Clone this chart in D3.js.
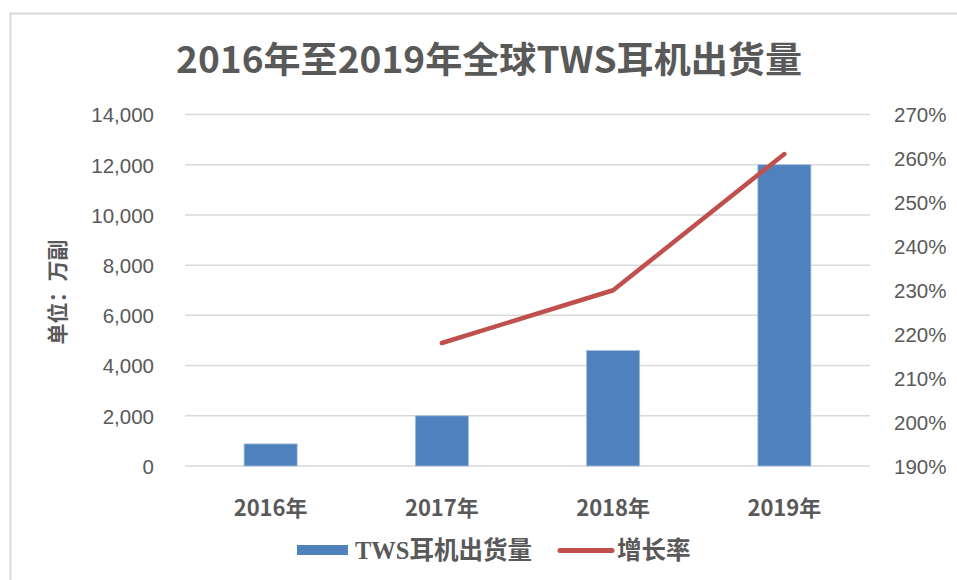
<!DOCTYPE html>
<html>
<head>
<meta charset="utf-8">
<script src="https://cdn.jsdelivr.net/npm/d3@7"></script>
<style>
  body { margin: 0; background: #fff; }
  text { fill: #595959; }
</style>
</head>
<body>
<script>
// data
const years = ["2016年", "2017年", "2018年", "2019年"];
const shipments = [880, 2000, 4600, 12000];   // 万副
const growth = [null, 2.18, 2.30, 2.61];      // 增长率
const leftTicks = [0, 2000, 4000, 6000, 8000, 10000, 12000, 14000];
const rightTicks = [1.9, 2.0, 2.1, 2.2, 2.3, 2.4, 2.5, 2.6, 2.7];

const width = 957, height = 580;
const svg = d3.select("body").append("svg")
  .attr("width", width)
  .attr("height", height);

// outer frame
svg.append("rect")
  .attr("x", 10.5).attr("y", 13.5)
  .attr("width", 960).attr("height", 600)
  .attr("fill", "none")
  .attr("stroke", "#d9d9d9")
  .attr("stroke-width", 2);

const plot = { left: 185, right: 870, top: 114.5, bottom: 466 };

const x = d3.scaleBand()
  .domain(years)
  .range([plot.left, plot.right])
  .paddingInner(0.69)
  .paddingOuter(0.345);

const y = d3.scaleLinear().domain([0, 14000]).range([plot.bottom, plot.top]);
const y2 = d3.scaleLinear().domain([1.9, 2.7]).range([plot.bottom, plot.top]);

// title
svg.append("text")
  .attr("x", 489).attr("y", 73)
  .attr("text-anchor", "middle")
  .attr("textLength", 626)
  .attr("lengthAdjust", "spacingAndGlyphs")
  .style("font-family", "'Liberation Sans Narrow', 'Noto Sans CJK SC', sans-serif")
  .style("font-weight", "bold")
  .style("font-size", "36px")
  .text("2016年至2019年全球TWS耳机出货量");

// grid
svg.append("g")
  .selectAll("line")
  .data(leftTicks)
  .join("line")
  .attr("x1", plot.left).attr("x2", plot.right)
  .attr("y1", d => y(d)).attr("y2", d => y(d))
  .attr("stroke", "#d9d9d9")
  .attr("stroke-width", 1.5);

// left axis
const leftAxis = svg.append("g")
  .attr("transform", `translate(${plot.left - 28},0)`)
  .call(d3.axisLeft(y).tickValues(leftTicks).tickSize(0).tickFormat(d3.format(",")));
leftAxis.select(".domain").remove();
leftAxis.selectAll("text")
  .style("font-family", "'Liberation Sans', Arial, sans-serif")
  .style("font-size", "20.5px")
  .style("fill", "#595959")
  .attr("dy", "0.36em");

// right axis
const rightAxis = svg.append("g")
  .attr("transform", `translate(${plot.right + 21},0)`)
  .call(d3.axisRight(y2).tickValues(rightTicks).tickSize(0).tickFormat(d => Math.round(d * 100) + "%"));
rightAxis.select(".domain").remove();
rightAxis.selectAll("text")
  .style("font-family", "'Liberation Sans', Arial, sans-serif")
  .style("font-size", "20.5px")
  .style("fill", "#595959")
  .attr("dy", "0.36em");

// y axis title
svg.append("text")
  .attr("transform", "translate(65,292) rotate(-90)")
  .attr("text-anchor", "middle")
  .style("font-family", "'Noto Sans CJK SC', sans-serif")
  .style("font-weight", "bold")
  .style("font-size", "21px")
  .text("单位：万副");

// x labels
svg.append("g")
  .selectAll("text")
  .data(years)
  .join("text")
  .attr("x", d => x(d) + x.bandwidth() / 2)
  .attr("y", 516)
  .attr("text-anchor", "middle")
  .style("font-family", "'Liberation Sans Narrow', 'Noto Sans CJK SC', sans-serif")
  .style("font-weight", "bold")
  .style("font-size", "22px")
  .text(d => d);

// bars
svg.append("g")
  .selectAll("rect")
  .data(years)
  .join("rect")
  .attr("x", d => x(d))
  .attr("width", x.bandwidth())
  .attr("y", (d, i) => y(shipments[i]))
  .attr("height", (d, i) => y(0) - y(shipments[i]))
  .attr("fill", "#4f81bd")
  .attr("stroke", "#a7c0de")
  .attr("stroke-width", 0.8);

// growth line
const line = d3.line()
  .defined(d => d.v != null)
  .x(d => x(d.year) + x.bandwidth() / 2)
  .y(d => y2(d.v));
svg.append("path")
  .datum(years.map((yr, i) => ({ year: yr, v: growth[i] })))
  .attr("d", line)
  .attr("fill", "none")
  .attr("stroke", "#c0504d")
  .attr("stroke-width", 4.5)
  .attr("stroke-linecap", "round")
  .attr("stroke-linejoin", "round");

// legend
const legend = svg.append("g");
legend.append("rect")
  .attr("x", 297).attr("y", 545)
  .attr("width", 51).attr("height", 10)
  .attr("fill", "#4f81bd");
legend.append("text")
  .attr("x", 355).attr("y", 559)
  .style("font-family", "'Liberation Serif', 'Noto Sans CJK SC', serif")
  .style("font-weight", "bold")
  .style("font-size", "24.5px")
  .text("TWS耳机出货量");
legend.append("line")
  .attr("x1", 560).attr("x2", 612)
  .attr("y1", 550.5).attr("y2", 550.5)
  .attr("stroke", "#c0504d")
  .attr("stroke-width", 5)
  .attr("stroke-linecap", "round");
legend.append("text")
  .attr("x", 617).attr("y", 559)
  .style("font-family", "'Noto Sans CJK SC', sans-serif")
  .style("font-weight", "bold")
  .style("font-size", "24.5px")
  .text("增长率");
</script>
</body>
</html>
